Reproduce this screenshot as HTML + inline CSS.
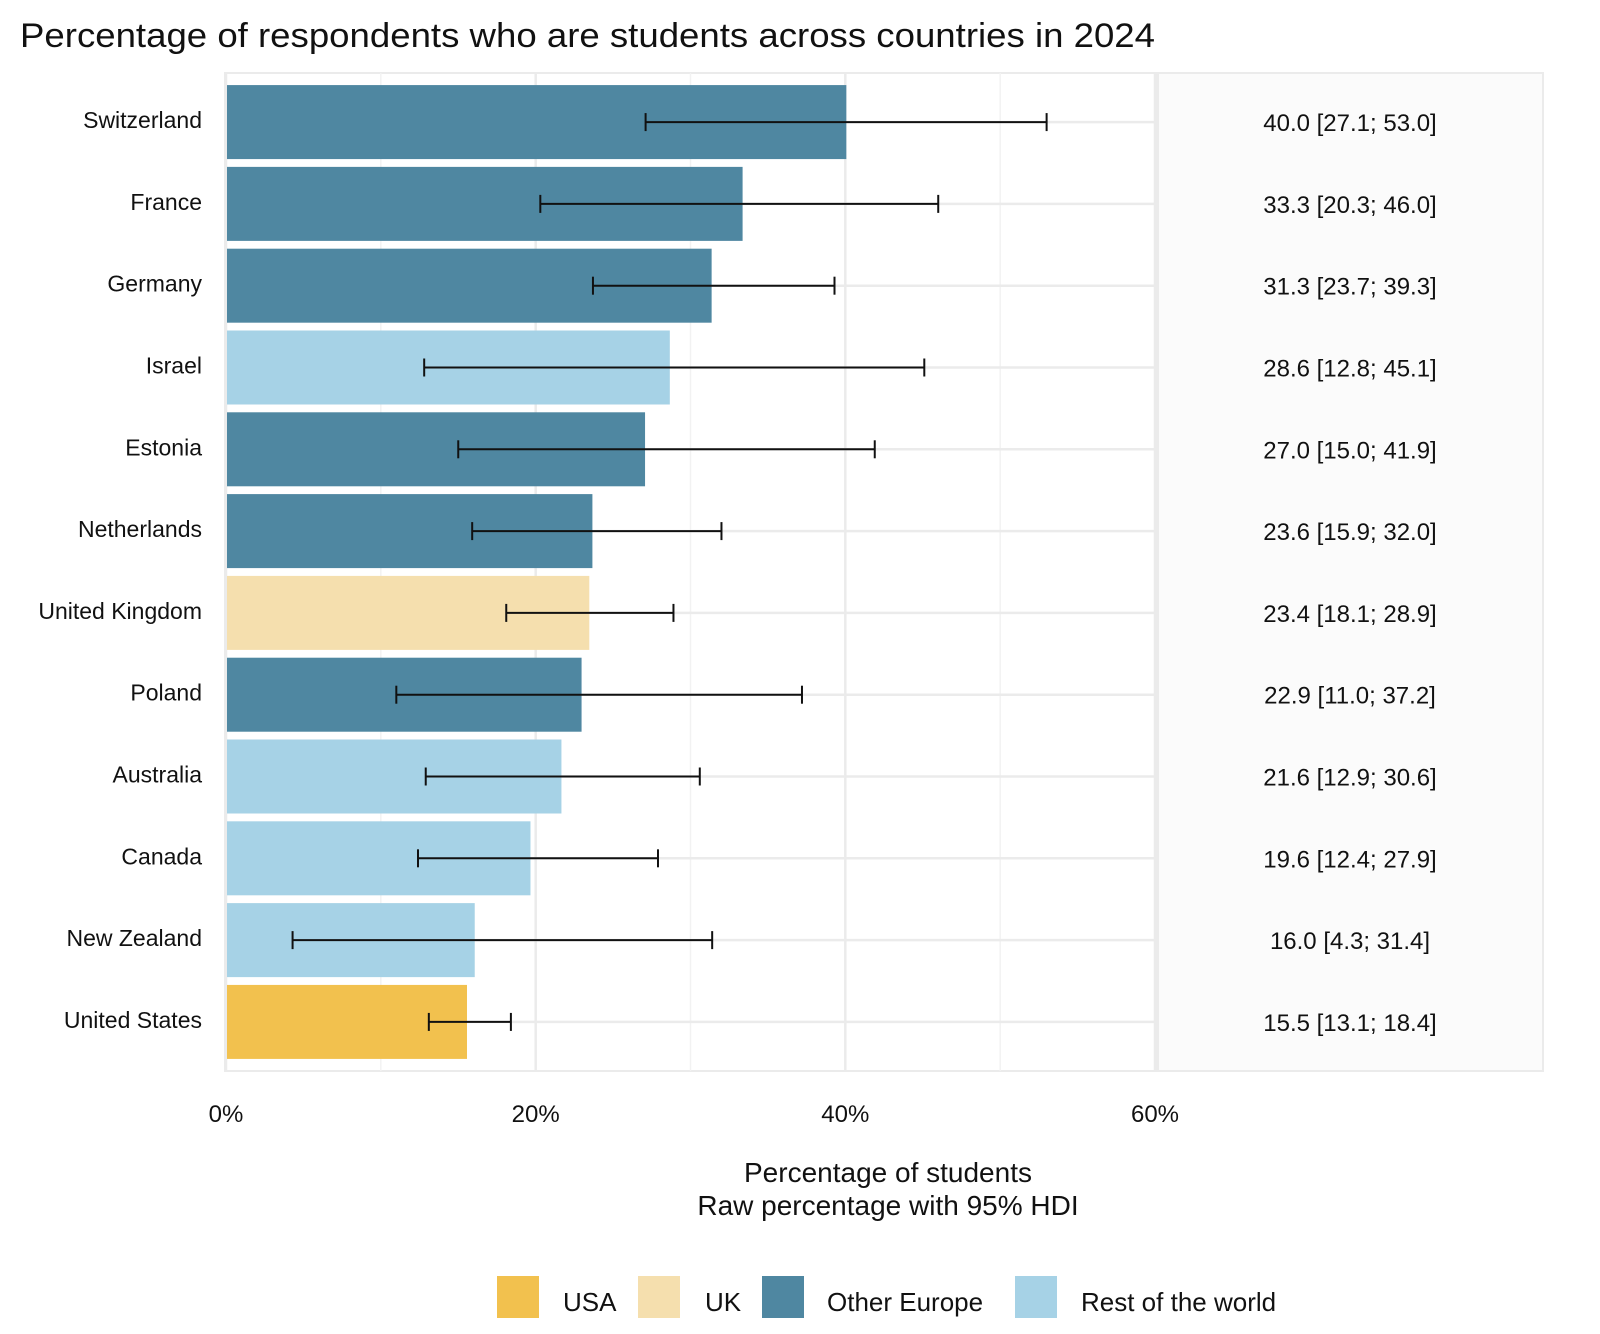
<!DOCTYPE html>
<html><head><meta charset="utf-8"><style>
body{margin:0;background:#fff;}
svg{display:block;font-family:"Liberation Sans",sans-serif;}
</style></head><body>
<svg id="chart" width="1600" height="1334" viewBox="0 0 1600 1334" xmlns="http://www.w3.org/2000/svg">
<text x="20" y="47" font-size="34" fill="#111" textLength="1135" lengthAdjust="spacingAndGlyphs">Percentage of respondents who are students across countries in 2024</text>
<g id="grid"></g>
<g id="bars"></g>
<g id="labels"></g>
<text x="888" y="1182" font-size="28" text-anchor="middle" fill="#111">Percentage of students</text>
<text x="888" y="1215" font-size="28" text-anchor="middle" fill="#111">Raw percentage with 95% HDI</text>
<g id="legend"></g>
</svg>
<script>
const countries=["Switzerland","France","Germany","Israel","Estonia","Netherlands","United Kingdom","Poland","Australia","Canada","New Zealand","United States"];
const values=[40.0,33.3,31.3,28.6,27.0,23.6,23.4,22.9,21.6,19.6,16.0,15.5];
const lower=[27.1,20.3,23.7,12.8,15.0,15.9,18.1,11.0,12.9,12.4,4.3,13.1];
const upper=[53.0,46.0,39.3,45.1,41.9,32.0,28.9,37.2,30.6,27.9,31.4,18.4];
const groups=["Other Europe","Other Europe","Other Europe","Rest of the world","Other Europe","Other Europe","UK","Other Europe","Rest of the world","Rest of the world","Rest of the world","USA"];
const xTicks=[0,20,40,60];
const xTickLabels=["0%","20%","40%","60%"];
const legendNames=["USA","UK","Other Europe","Rest of the world"];
const colors={"USA":"#F2C14E","UK":"#F5DFAE","Other Europe":"#4F87A1","Rest of the world":"#A6D2E6"};
const NS="http://www.w3.org/2000/svg";
const L=226,R=1155,T=73,B=1071;
const x=v=>L+(v/60)*(R-L);
const step=(B-T)/(countries.length-1+1.2);
const y=i=>T+0.6*step+i*step;
function mk(tag,attrs,parent){const e=document.createElementNS(NS,tag);for(const k in attrs)e.setAttribute(k,attrs[k]);parent.appendChild(e);return e;}
const grid=document.getElementById('grid'),bars=document.getElementById('bars'),labels=document.getElementById('labels');
let p=mk('rect',{x:L-1,y:T,width:R-L+2,height:B-T,fill:'#fff',stroke:'#ebebeb','stroke-width':2},grid);

let rp=mk('rect',{x:R+3,y:T,width:1543-R-3,height:B-T,fill:'#fbfbfb',stroke:'#ebebeb','stroke-width':2},grid);

[10,30,50].forEach(v=>{const l=mk('line',{x1:x(v),x2:x(v),y1:T,y2:B,stroke:'#f2f2f2','stroke-width':1.5},grid);});
xTicks.forEach((v,i)=>{const l=mk('line',{x1:x(v),x2:x(v),y1:T,y2:B,stroke:'#ebebeb','stroke-width':2.5},grid);
const t=mk('text',{x:x(v),y:1122,'font-size':24,'text-anchor':'middle',fill:'#111'},labels);t.textContent=xTickLabels[i];});
countries.forEach((c,i)=>{
const yy=y(i);
const g=mk('line',{x1:L,x2:R,y1:yy,y2:yy,stroke:'#ebebeb','stroke-width':2.5},grid);
const b=mk('rect',{x:x(0)+1,y:yy-37,width:x(values[i])-x(0),height:74,fill:colors[groups[i]]},bars);

const e=mk('g',{stroke:'#111','stroke-width':2},bars);
mk('line',{x1:x(lower[i]),x2:x(upper[i]),y1:yy,y2:yy},e);
mk('line',{x1:x(lower[i]),x2:x(lower[i]),y1:yy-9,y2:yy+9},e);
mk('line',{x1:x(upper[i]),x2:x(upper[i]),y1:yy-9,y2:yy+9},e);
const t=mk('text',{x:202,y:yy+6,'font-size':23,'text-anchor':'end',fill:'#111'},labels);t.textContent=c;
const v=mk('text',{x:1350,y:yy+9,'font-size':24,'text-anchor':'middle',fill:'#111'},labels);v.textContent=values[i].toFixed(1)+' ['+lower[i].toFixed(1)+'; '+upper[i].toFixed(1)+']';
});
const leg=document.getElementById('legend');
const keyX=[497,638,762,1015],txtX=[563,705,827,1081];
legendNames.forEach((n,i)=>{
const r=mk('rect',{x:keyX[i],y:1276,width:42,height:42,fill:colors[n]},leg);
const t=mk('text',{x:txtX[i],y:1311,'font-size':26,fill:'#111'},leg);t.textContent=n;
});
</script>
</body></html>
